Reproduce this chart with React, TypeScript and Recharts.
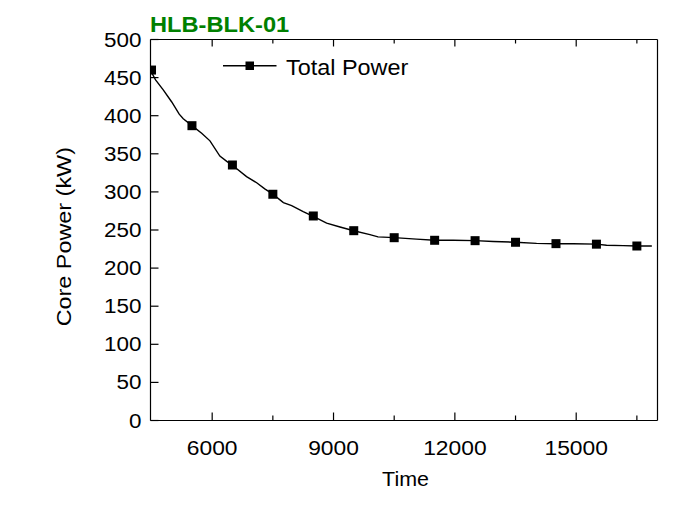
import { LineChart, Line, XAxis, YAxis, Legend, Label } from 'recharts';

const FONT = "'Liberation Sans', Arial, sans-serif";

// time (s) vs core power (kW)
const curveTime = [
  4478, 4600, 4790, 5000, 5185, 5285, 5500, 5740, 5945, 6190, 6360, 6500, 6850, 7100, 7300, 7500, 7760, 7965,
  8250, 8500, 8830, 9160, 9500, 9900, 10100, 10500, 11050, 11500, 11960, 12500, 12950, 13500, 14020, 14500,
  14930, 15500, 15750, 16160, 16500, 16870,
];
const curvePower = [
  459, 447, 434, 418, 402, 396, 387, 377, 367, 347, 340, 335, 320, 312, 304, 297, 286, 282,
  274, 268, 259, 254, 249, 244, 241, 240, 238, 236.5, 236.5, 236, 235, 234, 232.5, 232,
  232, 231.4, 230, 229.5, 229, 229,
];

// sampled points shown with square markers
const markerTime = [4500, 5500, 6500, 7500, 8500, 9500, 10500, 11500, 12500, 13500, 14500, 15500, 16500];
const markerPower = [459.9, 386.9, 335.3, 296.9, 268.4, 249.1, 239.9, 236.5, 236, 233.9, 232.1, 231.4, 229];

const xTicks = [6000, 7500, 9000, 10500, 12000, 13500, 15000, 16500];
const xLabelled = [6000, 9000, 12000, 15000];
const yTicks = [0, 50, 100, 150, 200, 250, 300, 350, 400, 450, 500];

const curve = curveTime.map((t, i) => ({ time: t, power: curvePower[i] }));
const markers = markerTime.map((t, i) => ({ time: t, power: markerPower[i] }));

// Origin-style text is a bit wider than Arial, so stretch it horizontally
function SText({ x, y, size, sx = 1.2, anchor = 'start', weight = 'normal', fill = '#000', rotate = 0, children }: any) {
  return (
    <text
      transform={`translate(${x},${y}) rotate(${rotate}) scale(${sx},1)`}
      x={0}
      y={0}
      textAnchor={anchor}
      fontSize={size}
      fontWeight={weight}
      fill={fill}
      fontFamily={FONT}
    >
      {children}
    </text>
  );
}

function BottomTick({ x, y, payload }: any) {
  const major = xLabelled.includes(payload.value);
  return (
    <g>
      <line x1={x} y1={y} x2={x} y2={y - (major ? 8 : 5)} stroke="#000" strokeWidth={1.2} />
      {major && (
        <SText x={x} y={y + 34} size={19.5} sx={1.17} anchor="middle">
          {payload.value}
        </SText>
      )}
    </g>
  );
}

function TopTick({ x, y, payload }: any) {
  const major = xLabelled.includes(payload.value);
  return <line x1={x} y1={y} x2={x} y2={y + (major ? 7 : 4)} stroke="#000" strokeWidth={1.2} />;
}

function LeftTick({ x, y, payload }: any) {
  return (
    <g>
      <line x1={x} y1={y} x2={x + 8} y2={y} stroke="#000" strokeWidth={1.2} />
      <SText x={x - 9} y={y + 7} size={19.5} sx={1.15} anchor="end">
        {payload.value}
      </SText>
    </g>
  );
}

function RightTick({ x, y }: any) {
  return <line x1={x} y1={y} x2={x - 8} y2={y} stroke="#000" strokeWidth={1.2} />;
}

function SquareDot({ cx, cy, index }: any) {
  return <rect key={`m-${index}`} x={cx - 4.5} y={cy - 4.5} width={9} height={9} fill="#000" />;
}

function LegendBox() {
  return (
    <svg width={210} height={30}>
      <line x1={3} y1={15.7} x2={56.5} y2={15.7} stroke="#000" strokeWidth={1.4} />
      <rect x={25.5} y={11.5} width={8.5} height={8.5} fill="#000" />
      <SText x={66} y={25} size={21.5} sx={1.09}>
        Total Power
      </SText>
    </svg>
  );
}

export default function App() {
  return (
    <div style={{ position: 'absolute', left: 0, top: 0, background: '#fff' }}>
      <LineChart width={680} height={506} margin={{ top: 38.5, right: 21.5, bottom: 25.5, left: 50.5 }}>
        <XAxis
          xAxisId="bottom"
          dataKey="time"
          type="number"
          domain={[4475, 17010]}
          allowDataOverflow
          ticks={xTicks}
          interval={0}
          height={60}
          tickSize={0}
          tickMargin={0}
          tickLine={false}
          axisLine={{ stroke: '#000', strokeWidth: 1.2 }}
          tick={<BottomTick />}
        >
          <Label
            content={() => (
              <SText x={405.5} y={486} size={19.5} sx={1.1} anchor="middle">
                Time
              </SText>
            )}
          />
        </XAxis>
        <XAxis
          xAxisId="top"
          orientation="top"
          dataKey="time"
          type="number"
          domain={[4475, 17010]}
          allowDataOverflow
          ticks={xTicks}
          interval={0}
          height={1}
          tickSize={0}
          tickMargin={0}
          tickLine={false}
          axisLine={{ stroke: '#000', strokeWidth: 1.2 }}
          tick={<TopTick />}
        >
          <Label
            content={() => (
              <SText x={150} y={32} size={21.5} sx={1.1} weight="bold" fill="#008000">
                HLB-BLK-01
              </SText>
            )}
          />
        </XAxis>
        <YAxis
          yAxisId="left"
          type="number"
          domain={[0, 500]}
          ticks={yTicks}
          interval={0}
          width={100}
          tickSize={0}
          tickMargin={0}
          tickLine={false}
          axisLine={{ stroke: '#000', strokeWidth: 1.2 }}
          tick={<LeftTick />}
        >
          <Label
            content={() => (
              <SText x={71} y={236.7} size={20} sx={1.17} rotate={-90} anchor="middle">
                Core Power (kW)
              </SText>
            )}
          />
        </YAxis>
        <YAxis
          yAxisId="right"
          orientation="right"
          type="number"
          domain={[0, 500]}
          ticks={yTicks}
          interval={0}
          width={1}
          tickSize={0}
          tickMargin={0}
          tickLine={false}
          axisLine={{ stroke: '#000', strokeWidth: 1.2 }}
          tick={<RightTick />}
        />
        <Legend
          layout="horizontal"
          verticalAlign="middle"
          align="center"
          wrapperStyle={{ position: 'absolute', left: 220, top: 50, width: 210, height: 30 }}
          content={() => <LegendBox />}
        />
        <Line
          data={curve}
          dataKey="power"
          name="Total Power"
          xAxisId="bottom"
          yAxisId="left"
          type="linear"
          stroke="#000"
          strokeWidth={1.4}
          dot={false}
          isAnimationActive={false}
        />
        <Line
          data={markers}
          dataKey="power"
          name="markers"
          xAxisId="bottom"
          yAxisId="left"
          type="linear"
          stroke="none"
          legendType="none"
          dot={SquareDot}
          activeDot={false}
          isAnimationActive={false}
        />
      </LineChart>
    </div>
  );
}
